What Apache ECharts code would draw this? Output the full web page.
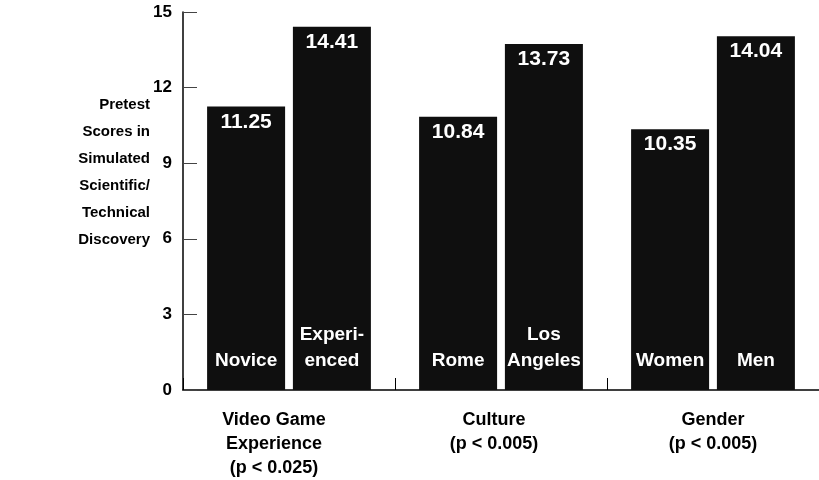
<!DOCTYPE html>
<html>
<head>
<meta charset="utf-8">
<script src="https://cdn.jsdelivr.net/npm/echarts@6/dist/echarts.min.js"></script>
<style>
  html, body { margin: 0; padding: 0; background: #fff; }
  #chart { width: 819px; height: 480px; }
</style>
</head>
<body>
<div id="chart"></div>
<script>
// groups on the x axis
const groups = ['Video Game\nExperience\n(p < 0.025)', 'Culture\n(p < 0.005)', 'Gender\n(p < 0.005)']
// left and right bar in each group
const leftNames = ['Novice', 'Rome', 'Women']
const leftValues = [11.25, 10.84, 10.35]
const rightNames = ['Experi-\nenced', 'Los\nAngeles', 'Men']
const rightValues = [14.41, 13.73, 14.04]
const yTicks = [0, 3, 6, 9, 12, 15]
const yTitle = ['Pretest', 'Scores in', 'Simulated', 'Scientific/', 'Technical', 'Discovery']

const font = "'Liberation Sans', Arial, Helvetica, sans-serif"
const barColor = '#0f0f0f'

const chart = echarts.init(document.getElementById('chart'))

// first group label sits a bit left of its group centre in the original
const labelPads = [[0, 30, 0, 0], [0, 14, 0, 0], [0, 0, 0, 0]]

function xAxisCfg (show) {
  return {
    type: 'category',
    data: groups.map((g, i) => ({ value: g, textStyle: { padding: labelPads[i] } })),
    show: show,
    boundaryGap: true,
    axisLine: { show: true, lineStyle: { color: '#000', width: 1.5 } },
    axisTick: { show: true, inside: true, length: 12, lineStyle: { color: '#000' } },
    axisLabel: {
      margin: 18,
      color: '#000',
      fontSize: 18,
      fontWeight: 'bold',
      lineHeight: 24,
      fontFamily: font
    }
  }
}

// value label on top, name label at the bottom (drawn by a transparent twin series)
function barSeries (values) {
  return {
    type: 'bar',
    xAxisIndex: 0,
    data: values,
    barWidth: 78,
    barGap: '10%',
    itemStyle: { color: barColor },
    label: {
      show: true,
      position: 'insideTop',
      distance: 5,
      color: '#fff',
      fontSize: 21,
      fontWeight: 'bold',
      fontFamily: font,
      formatter: p => p.value.toFixed(2)
    },
    silent: true
  }
}

function nameSeries (values, names) {
  return {
    type: 'bar',
    xAxisIndex: 1,
    data: values,
    barWidth: 78,
    barGap: '10%',
    itemStyle: { color: 'rgba(0,0,0,0)' },
    label: {
      show: true,
      position: 'insideBottom',
      distance: 16,
      color: '#fff',
      fontSize: 19,
      fontWeight: 'bold',
      lineHeight: 26,
      fontFamily: font,
      formatter: p => names[p.dataIndex]
    },
    silent: true,
    z: 3
  }
}

// y axis title, one right-aligned line each
const titleGraphics = yTitle.map((t, i) => ({
  type: 'text',
  x: 150,
  y: 105 + i * 27,
  style: {
    text: t,
    align: 'right',
    verticalAlign: 'middle',
    fill: '#000',
    fontSize: 15,
    fontWeight: 'bold',
    fontFamily: font
  }
}))

const option = {
  animation: false,
  backgroundColor: '#fff',
  grid: {
    left: 183,
    right: -3,
    top: 12,
    bottom: 90,
    containLabel: false
  },
  xAxis: [xAxisCfg(true), xAxisCfg(false)],
  yAxis: {
    type: 'value',
    min: yTicks[0],
    max: yTicks[yTicks.length - 1],
    interval: 3,
    splitLine: { show: false },
    axisLine: { show: true, lineStyle: { color: '#000', width: 1.5 } },
    axisTick: { show: true, inside: true, length: 14, lineStyle: { color: '#444', width: 1 } },
    axisLabel: {
      margin: 11,
      color: '#000',
      fontSize: 17,
      fontWeight: 'bold',
      fontFamily: font
    }
  },
  graphic: titleGraphics,
  series: [
    barSeries(leftValues),
    barSeries(rightValues),
    nameSeries(leftValues, leftNames),
    nameSeries(rightValues, rightNames)
  ]
}

chart.setOption(option)
</script>
</body>
</html>
